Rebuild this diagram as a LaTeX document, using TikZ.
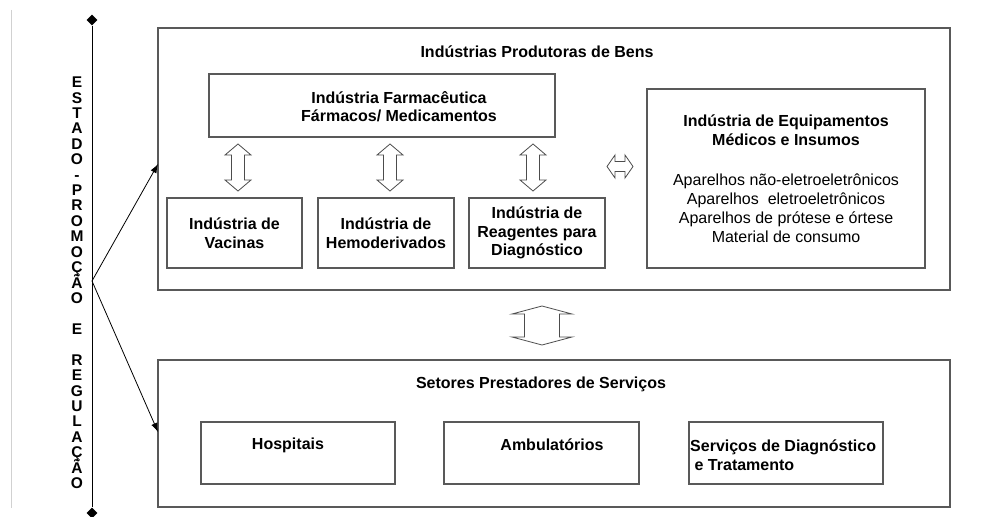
\documentclass[tikz,border=0pt]{standalone}
\usepackage{fontspec}
\setmainfont{Liberation Sans}
\usetikzlibrary{arrows.meta,shapes.geometric}

% hollow double arrows: centre, start, end, half head, half shaft, head length
\newcommand{\vdblarrow}[6]{%
  \draw[hollow] (#1,#2) -- ({#1+#4},{#2+#6}) -- ({#1+#5},{#2+#6}) -- ({#1+#5},{#3-#6})
    -- ({#1+#4},{#3-#6}) -- (#1,#3) -- ({#1-#4},{#3-#6}) -- ({#1-#5},{#3-#6})
    -- ({#1-#5},{#2+#6}) -- ({#1-#4},{#2+#6}) -- cycle ;}
\newcommand{\hdblarrow}[6]{%
  \draw[hollow] (#2,#1) -- ({#2+#6},{#1-#4}) -- ({#2+#6},{#1-#5}) -- ({#3-#6},{#1-#5})
    -- ({#3-#6},{#1-#4}) -- (#3,#1) -- ({#3-#6},{#1+#4}) -- ({#3-#6},{#1+#5})
    -- ({#2+#6},{#1+#5}) -- ({#2+#6},{#1+#4}) -- cycle ;}

\begin{document}
\begin{tikzpicture}[x=1pt,y=-1pt,
  box/.style={draw=black!65,line width=1.2pt,inner sep=0pt,align=center,
    font=\bfseries\fontsize{16}{18.6}\selectfont},
  lbl/.style={inner sep=0pt,align=center,font=\bfseries\fontsize{16}{18.6}\selectfont},
  vletter/.style={inner sep=0pt,anchor=base,font=\bfseries\fontsize{15.5}{15}\selectfont},
  axisend/.style={diamond,fill=black,inner sep=0pt,minimum size=11pt},
  hollow/.style={draw=black!70,line width=0.8pt,fill=white,line join=miter}]

\useasboundingbox (0,0) rectangle (981,516) ;

\draw[black!18,line width=1pt] (11,10) -- (11,508) ;

% state axis
\node[axisend] (top) at (92,20) {} ;
\node[axisend] (bot) at (92,513) {} ;
\draw[line width=0.8pt] (top) -- (bot) ;

\foreach \c/\i in {E/0,S/1,T/2,A/3,D/4,O/5,-/6,P/7,R/8,O/9,M/10,O/11,Ç/12,Ã/13,O/14,
                   E/16,R/18,E/19,G/20,U/21,L/22,A/23,Ç/24,Ã/25,O/26}
  \node[vletter] (v\i) at (77,{87.6+15.42*\i}) {\c} ;

% producers
\node[box,minimum width=792pt,minimum height=262pt] (prod) at (554,159) {} ;
\node[lbl] (prod-t) at (537,52) {Indústrias Produtoras de Bens} ;

\node[box,minimum width=346pt,minimum height=63pt] (farma) at (382,105.5) {} ;
\node[lbl] (farma-t) at (399,106.5) {Indústria Farmacêutica\\Fármacos/ Medicamentos} ;

\node[box,minimum width=135pt,minimum height=70pt] (vac) at (234.5,233) {Indústria de\\Vacinas} ;
\node[box,minimum width=136pt,minimum height=70pt] (hemo) at (386,233) {Indústria de\\Hemoderivados} ;
\node[box,minimum width=136pt,minimum height=70pt] (reag) at (537,233) {Indústria de\\Reagentes para\\Diagnóstico} ;

\node[box,minimum width=278pt,minimum height=179pt,font=\fontsize{16}{19}\selectfont] (equip) at (786,178.5)
  {{\bfseries Indústria de Equipamentos}\\{\bfseries Médicos e Insumos}\\[21pt]
   Aparelhos não-eletroeletrônicos\\Aparelhos \ eletroeletrônicos\\
   Aparelhos de prótese e órtese\\Material de consumo} ;

\vdblarrow{238}{144}{191}{13}{6.5}{11}
\vdblarrow{390}{144}{191}{13}{6.5}{11}
\vdblarrow{533}{144}{191}{13}{6.5}{11}
\hdblarrow{166.5}{607}{633}{11.5}{5}{8}

% services
\vdblarrow{542}{306}{345}{30}{17.5}{8}

\node[box,minimum width=792pt,minimum height=147pt] (serv) at (554,433.5) {} ;
\node[lbl] (serv-t) at (541,384) {Setores Prestadores de Serviços} ;

\node[box,minimum width=194pt,minimum height=62pt] (hosp) at (298,453) {} ;
\node[lbl] (hosp-t) at (288,445) {Hospitais} ;
\node[box,minimum width=195pt,minimum height=62pt] (amb) at (541.5,453) {} ;
\node[lbl] (amb-t) at (552,445) {Ambulatórios} ;
\node[box,minimum width=194pt,minimum height=62pt] (diag) at (786,453) {} ;
\node[lbl,align=left,anchor=north west] (diag-t) at (690,440) {Serviços de Diagnóstico\\\ e Tratamento} ;

% state actions
\coordinate (hub) at (92,281) ;
\coordinate (prod-in) at (158,164) ;
\coordinate (serv-in) at (158,432) ;
\draw[line width=0.8pt,-{Latex[length=9pt,width=6.5pt]}] (hub) -- (prod-in) ;
\draw[line width=0.8pt,-{Latex[length=9pt,width=6.5pt]}] (hub) -- (serv-in) ;

\end{tikzpicture}
\end{document}
